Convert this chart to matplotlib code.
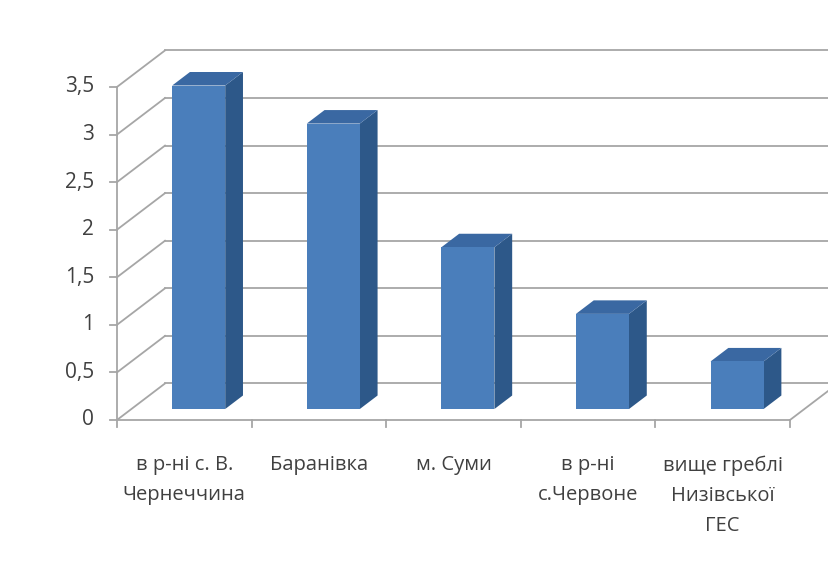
import matplotlib
matplotlib.use('Agg')
import matplotlib.pyplot as plt
from matplotlib.patches import Polygon

plt.rcParams['font.family'] = ['Open Sans', 'DejaVu Sans']

# river sampling points and measured values
stations = ['в р-ні с. В.\nЧернеччина', 'Баранівка', 'м. Суми',
            'в р-ні\nс.Червоне', 'вище греблі\nНизівської\nГЕС']
values = [3.4, 3.0, 1.7, 1.0, 0.5]
yticks = [0, 0.5, 1, 1.5, 2, 2.5, 3, 3.5]
ytick_labels = ['0', '0,5', '1', '1,5', '2', '2,5', '3', '3,5']

# oblique "3d" look: depth offset of back wall in data units
DX = 0.357
DY = 0.384
F0, F1 = 0.30, 0.67       # bar front / back depth fractions
BAR_W = 0.394
GRID = '#a6a6a6'
FRONT = '#4a7ebb'
SIDE = '#2d5889'
TOP = '#3a68a2'
TXT = '#404040'

n = len(stations)
ymax = yticks[-1]

fig = plt.figure(figsize=(8.29, 5.62), dpi=100)
ax = fig.add_axes([0, 0, 1, 1])
ax.set_xlim(-0.869, 5.29)
ax.set_ylim(-1.4925, 4.414)
ax.axis('off')

# back wall gridlines + left wall diagonals
for t in yticks:
    ax.plot([0, DX], [t, t + DY], color=GRID, lw=1.3, zorder=1)
    ax.plot([DX, n + DX + 1], [t + DY, t + DY], color=GRID, lw=1.3, zorder=1)

# floor
ax.plot([0, n], [0, 0], color=GRID, lw=1.3, zorder=1)
ax.plot([n, n + DX], [0, DY], color=GRID, lw=1.3, zorder=1)

# left axis with ticks
ax.plot([0, 0], [0, ymax], color=GRID, lw=1.3, zorder=4)
for t, lab in zip(yticks, ytick_labels):
    ax.plot([-0.05, 0], [t, t], color=GRID, lw=1.3, zorder=4)
    ax.text(-0.17, t, lab, ha='right', va='center', fontsize=15,
            color=TXT)

# category ticks along the floor
for i in range(n + 1):
    ax.plot([i, i], [0, -0.07], color=GRID, lw=1.3, zorder=4)

# bars: front, side and top faces
for i, v in enumerate(values):
    x0 = i + 0.5 - BAR_W / 2 + F0 * DX
    x1 = x0 + BAR_W
    b0 = F0 * DY
    d = (F1 - F0)
    front = [(x0, b0), (x1, b0), (x1, b0 + v), (x0, b0 + v)]
    side = [(x1, b0), (x1 + d * DX, b0 + d * DY),
            (x1 + d * DX, b0 + v + d * DY), (x1, b0 + v)]
    top = [(x0, b0 + v), (x1, b0 + v),
           (x1 + d * DX, b0 + v + d * DY), (x0 + d * DX, b0 + v + d * DY)]
    ax.add_patch(Polygon(side, closed=True, fc=SIDE, ec='none', zorder=3))
    ax.add_patch(Polygon(top, closed=True, fc=TOP, ec='none', zorder=3))
    ax.add_patch(Polygon(front, closed=True, fc=FRONT, ec='none', zorder=3))

# category labels
for i, s in enumerate(stations):
    ax.text(i + 0.5, -0.37, s, ha='center', va='top', fontsize=14.5,
            color=TXT, linespacing=1.68)

fig.savefig('out.png', dpi=100)
